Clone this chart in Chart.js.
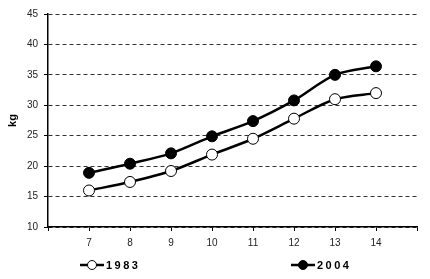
<!DOCTYPE html>
<html>
<head>
<meta charset="utf-8">
<script src="https://cdn.jsdelivr.net/npm/chart.js@4"></script>
<style>
  html, body { margin: 0; padding: 0; background: #fff; }
  #wrap { width: 430px; height: 279px; position: relative; }
</style>
</head>
<body>
<div id="wrap"><canvas id="chart"></canvas></div>
<script>
// ages on the x axis
const ages = [7, 8, 9, 10, 11, 12, 13, 14];
// weight in kg
const weight1983 = [16.0, 17.4, 19.2, 21.9, 24.5, 27.8, 31.0, 32.0];
const weight2004 = [18.9, 20.4, 22.1, 24.9, 27.4, 30.8, 35.0, 36.4];
const seriesNames = ['1983', '2004'];
const yTicks = [10, 15, 20, 25, 30, 35, 40, 45];

const toPoints = vals => vals.map((v, i) => ({ x: ages[i], y: v }));

// legend drawn under the plot: line segment + marker + spaced bold label
const bottomLegend = {
    id: 'bottomLegend',
    afterDraw(chart) {
        const ctx = chart.ctx;
        const items = [
            { x: 80, fill: '#fff', label: seriesNames[0] },
            { x: 291, fill: '#000', label: seriesNames[1] }
        ];
        const y = 265;
        ctx.save();
        items.forEach(it => {
            ctx.strokeStyle = '#000';
            ctx.lineWidth = 2.5;
            ctx.beginPath();
            ctx.moveTo(it.x, y);
            ctx.lineTo(it.x + 24, y);
            ctx.stroke();
            ctx.lineWidth = 1;
            ctx.fillStyle = it.fill;
            ctx.beginPath();
            ctx.arc(it.x + 12, y, 4.5, 0, Math.PI * 2);
            ctx.fill();
            ctx.stroke();
            ctx.fillStyle = '#000';
            ctx.font = 'bold 11px "Liberation Sans", Arial, sans-serif';
            ctx.letterSpacing = '2.5px';
            ctx.textBaseline = 'middle';
            ctx.textAlign = 'left';
            ctx.fillText(it.label, it.x + 26, y + 1);
        });
        ctx.restore();
    }
};

new Chart(document.getElementById('chart'), {
    type: 'line',
    data: {
        datasets: [
            {
                label: seriesNames[0],
                data: toPoints(weight1983),
                borderColor: '#000',
                backgroundColor: '#fff',
                pointBackgroundColor: '#fff',
                pointBorderColor: '#000',
                borderWidth: 2.5,
                pointRadius: 5.5,
                pointBorderWidth: 1,
                tension: 0.3
            },
            {
                label: seriesNames[1],
                data: toPoints(weight2004),
                borderColor: '#000',
                backgroundColor: '#000',
                pointBackgroundColor: '#000',
                pointBorderColor: '#000',
                borderWidth: 2.5,
                pointRadius: 5.5,
                pointBorderWidth: 1,
                tension: 0.3
            }
        ]
    },
    options: {
        responsive: true,
        maintainAspectRatio: false,
        animation: false,
        layout: { padding: { left: 0, right: 13, top: 14, bottom: 22 } },
        plugins: {
            legend: { display: false },
            tooltip: { enabled: false }
        },
        scales: {
            x: {
                type: 'linear',
                min: 6, max: 15,
                afterFit: s => { s.height = 30; },
                afterBuildTicks: s => { s.ticks = []; for (let v = 6; v <= 15; v++) s.ticks.push({ value: v }); },
                ticks: {
                    color: '#222',
                    font: { family: '"Liberation Sans", Arial, sans-serif', size: 10 },
                    padding: 6,
                    maxRotation: 0,
                    callback: v => ages.includes(v) ? String(v) : ''
                },
                grid: { drawOnChartArea: false, drawTicks: true, tickLength: 4, tickColor: '#000' },
                border: { display: true, color: '#000', width: 1.5 }
            },
            y: {
                min: 10, max: 45,
                afterFit: s => { s.width = 48; },
                afterBuildTicks: s => { s.ticks = yTicks.map(v => ({ value: v })); },
                ticks: {
                    color: '#222',
                    font: { family: '"Liberation Sans", Arial, sans-serif', size: 10 },
                    padding: 6
                },
                title: {
                    display: true,
                    text: 'kg',
                    color: '#000',
                    font: { family: '"Liberation Sans", Arial, sans-serif', size: 11, weight: 'bold' },
                    padding: { top: 6, bottom: 0 }
                },
                grid: {
                    color: '#333',
                    lineWidth: 1,
                    tickLength: 4,
                    tickColor: '#000',
                    drawTicks: true
                },
                border: { display: true, color: '#000', width: 1.5, dash: [4, 3] }
            }
        }
    },
    plugins: [bottomLegend]
});
</script>
</body>
</html>
